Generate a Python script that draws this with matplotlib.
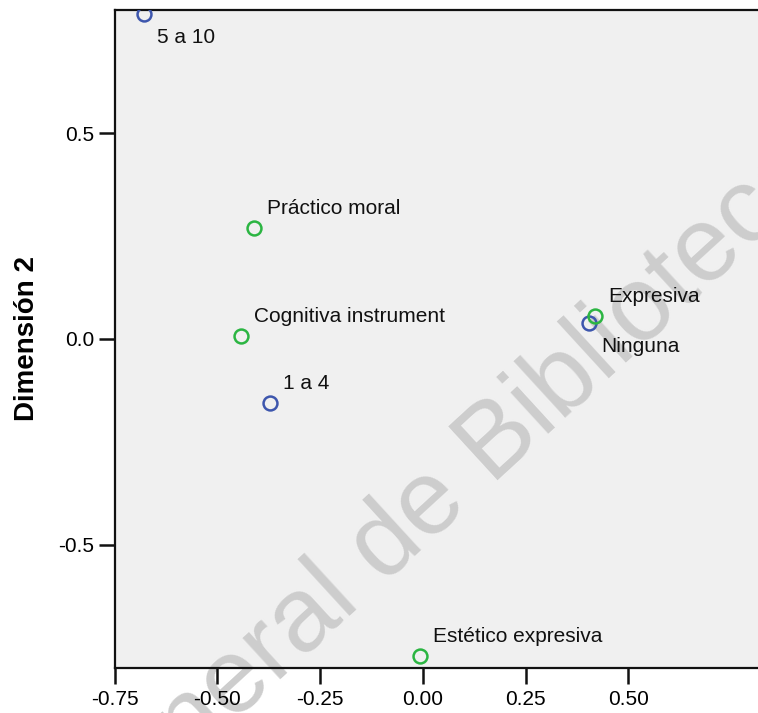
import matplotlib.pyplot as plt

plt.rcParams['font.family'] = ['Liberation Sans', 'DejaVu Sans']
plt.rcParams['axes.unicode_minus'] = False

# category points (dimension 1, dimension 2)
grupo_labels = ["5 a 10", "1 a 4", "Ninguna"]
grupo_x = [-0.678, -0.371, 0.403]
grupo_y = [0.790, -0.156, 0.038]

razon_labels = ["Práctico moral", "Cognitiva instrument", "Expresiva", "Estético expresiva"]
razon_x = [-0.411, -0.443, 0.419, -0.008]
razon_y = [0.271, 0.008, 0.057, -0.770]

x_ticks = [-0.75, -0.50, -0.25, 0.00, 0.25, 0.50]
y_ticks = [-0.5, 0.0, 0.5]

# labels that sit under their point instead of above it
below = {"5 a 10", "Ninguna"}

fig = plt.figure(figsize=(7.58, 7.13), dpi=100)
ax = fig.add_axes([0.1511, 0.0631, 0.8489, 0.9229])
ax.set_facecolor('#f0f0f0')

ax.plot(grupo_x, grupo_y, 'o', ms=10, mfc='none', mec='#3d56ad', mew=1.8, zorder=3)
ax.plot(razon_x, razon_y, 'o', ms=10, mfc='none', mec='#2bb542', mew=1.8, zorder=3)

for labels, xs, ys in [(grupo_labels, grupo_x, grupo_y), (razon_labels, razon_x, razon_y)]:
    for lab, x, y in zip(labels, xs, ys):
        off = (13, -29) if lab in below else (13, 14)
        ax.annotate(lab, (x, y), xytext=off, textcoords='offset pixels',
                    ha='left', va='baseline', fontsize=15, color='#111111', zorder=4)

ax.set_xlim(-0.75, 0.815)
ax.set_ylim(-0.8, 0.8)
ax.set_xticks(x_ticks)
ax.set_xticklabels(["%.2f" % t for t in x_ticks])
ax.set_yticks(y_ticks)
ax.set_yticklabels(["%.1f" % t for t in y_ticks])
ax.tick_params(direction='out', length=11.5, width=1.8, labelsize=15, color='#111111')
ax.tick_params(axis='x', pad=4.5)
ax.tick_params(axis='y', pad=3)

for side in ['left', 'bottom', 'top']:
    ax.spines[side].set_linewidth(1.6)
    ax.spines[side].set_color('#111111')
ax.spines['right'].set_visible(False)

ax.set_ylabel("Dimensión 2", fontsize=20, fontweight='bold')
ax.yaxis.set_label_coords(-0.116, 0.5)

# diagonal library watermark
ax.text(0.604, 0.327, "General de Bibliotecas", transform=fig.transFigure,
        rotation=42.5, rotation_mode='anchor', ha='center', va='center',
        fontsize=76, color='#cdcdcd', clip_on=False, zorder=1)

fig.savefig('out.png', dpi=100)
